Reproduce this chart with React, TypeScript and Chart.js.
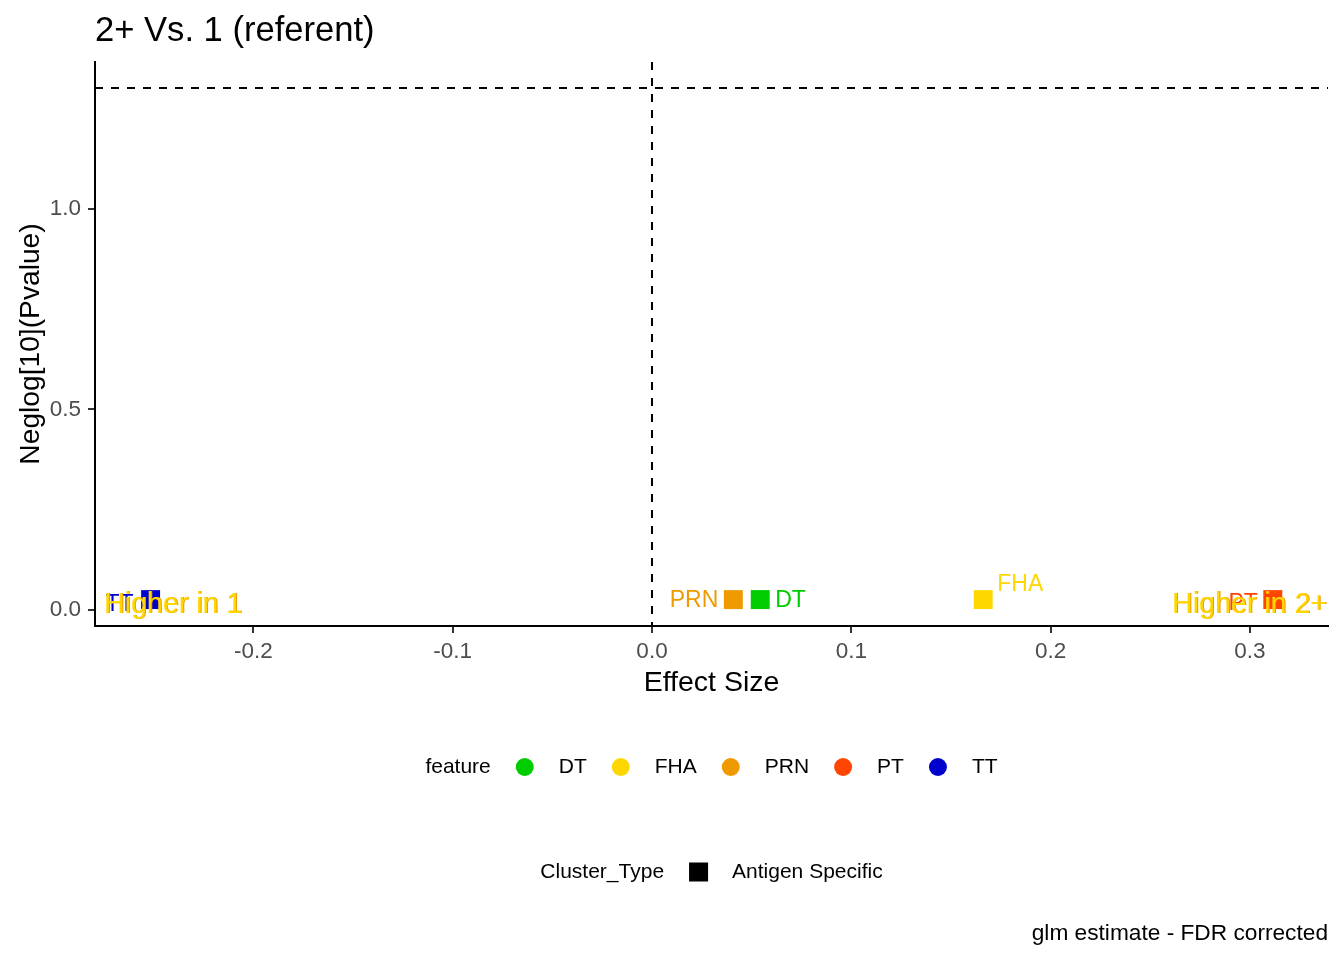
import { useEffect, useRef } from 'react';
import { Chart, registerables } from 'chart.js';

Chart.register(...registerables);

const FONT = '"Liberation Sans", Arial, sans-serif';

// data
const features = ['DT', 'FHA', 'PRN', 'PT', 'TT'];
const featureColors = ['#00CD00', '#FFD700', '#EE9A00', '#FF4500', '#0000CD'];
const effectSize = [0.0543, 0.1662, 0.0408, 0.3115, -0.2516];
const negLogP = [0.026, 0.026, 0.026, 0.026, 0.026];
const clusterTypes = ['Antigen Specific'];

const xTicks = [-0.2, -0.1, 0.0, 0.1, 0.2, 0.3];
const yTicks = [0.0, 0.5, 1.0];
const pThreshold = -Math.log10(0.05);

// repelled label placement (pixel offsets from the point, text alignment)
const labelOffsets: { dx: number; dy: number; align: CanvasTextAlign }[] = [
  { dx: 15, dy: 1, align: 'left' },
  { dx: 14, dy: -15, align: 'left' },
  { dx: -15, dy: 1, align: 'right' },
  { dx: -15, dy: 4, align: 'right' },
  { dx: -17, dy: 5, align: 'right' },
];

const annotPlugin = {
  id: 'annot',
  beforeDatasetsDraw(chart: any) {
    const { ctx, chartArea, scales } = chart;
    const x0 = scales.x.getPixelForValue(0);
    const yT = scales.y.getPixelForValue(pThreshold);
    ctx.save();
    ctx.strokeStyle = '#000';
    ctx.lineWidth = 2;
    ctx.setLineDash([8, 8]);
    ctx.beginPath();
    ctx.moveTo(x0, chartArea.top);
    ctx.lineTo(x0, chartArea.bottom);
    ctx.moveTo(chartArea.left, yT);
    ctx.lineTo(chartArea.right, yT);
    ctx.stroke();
    ctx.restore();
  },
  afterDatasetsDraw(chart: any) {
    const { ctx, scales } = chart;
    ctx.save();
    ctx.font = `23px ${FONT}`;
    ctx.textBaseline = 'middle';
    features.forEach((f, i) => {
      const px = scales.x.getPixelForValue(effectSize[i]);
      const py = scales.y.getPixelForValue(negLogP[i]);
      const o = labelOffsets[i];
      ctx.fillStyle = featureColors[i];
      ctx.textAlign = o.align;
      ctx.fillText(f, px + o.dx, py + o.dy);
    });

    // direction labels
    ctx.font = `28.6px ${FONT}`;
    const yH = scales.y.getPixelForValue(0.013);
    const drawDir = (text: string, x: number, align: CanvasTextAlign) => {
      ctx.textAlign = align;
      ctx.fillStyle = '#EE9A00';
      ctx.fillText(text, x + 1, yH);
      ctx.fillStyle = '#FFD700';
      ctx.fillText(text, x, yH);
    };
    drawDir('Higher in 1', scales.x.getPixelForValue(-0.275), 'left');
    drawDir('Higher in 2+', scales.x.getPixelForValue(scales.x.max) - 1, 'right');
    ctx.restore();
  },
  afterDraw(chart: any) {
    const { ctx, chartArea } = chart;
    ctx.save();
    ctx.fillStyle = '#000';
    ctx.textBaseline = 'alphabetic';

    // title
    ctx.font = `34.6px ${FONT}`;
    ctx.textAlign = 'left';
    ctx.fillText('2+ Vs. 1 (referent)', chartArea.left, 41);

    // axis titles
    ctx.font = `28.5px ${FONT}`;
    ctx.textAlign = 'center';
    ctx.textBaseline = 'middle';
    ctx.fillText('Effect Size', (chartArea.left + chartArea.right) / 2, 683);
    ctx.save();
    ctx.translate(39, (chartArea.top + chartArea.bottom) / 2);
    ctx.rotate(-Math.PI / 2);
    ctx.textBaseline = 'alphabetic';
    ctx.font = `28.2px ${FONT}`;
    ctx.fillText('Neglog[10](Pvalue)', 0, 0);
    ctx.restore();

    // legends
    const cx = (chartArea.left + chartArea.right) / 2;
    ctx.font = `21px ${FONT}`;
    ctx.textAlign = 'left';
    ctx.textBaseline = 'middle';
    const gap = 25;
    const key = 18;

    const row1Y = 767;
    let w = ctx.measureText('feature').width;
    features.forEach((f) => {
      w += gap + key + gap + ctx.measureText(f).width;
    });
    let x = cx - w / 2;
    ctx.fillStyle = '#000';
    ctx.fillText('feature', x, row1Y);
    x += ctx.measureText('feature').width;
    features.forEach((f, i) => {
      x += gap;
      ctx.fillStyle = featureColors[i];
      ctx.beginPath();
      ctx.arc(x + key / 2, row1Y, key / 2, 0, Math.PI * 2);
      ctx.fill();
      x += key + gap;
      ctx.fillStyle = '#000';
      ctx.fillText(f, x, row1Y);
      x += ctx.measureText(f).width;
    });

    const row2Y = 872;
    w = ctx.measureText('Cluster_Type').width;
    clusterTypes.forEach((c) => {
      w += gap + key + gap + ctx.measureText(c).width;
    });
    x = cx - w / 2;
    ctx.fillStyle = '#000';
    ctx.fillText('Cluster_Type', x, row2Y);
    x += ctx.measureText('Cluster_Type').width;
    clusterTypes.forEach((c) => {
      x += gap;
      ctx.fillRect(x, row2Y - key / 2 - 0.5, key + 1, key + 1);
      x += key + gap;
      ctx.fillText(c, x, row2Y);
      x += ctx.measureText(c).width;
    });

    // caption
    ctx.font = `22.7px ${FONT}`;
    ctx.textAlign = 'right';
    ctx.fillText('glm estimate - FDR corrected', chartArea.right, 934);
    ctx.restore();
  },
};

export default function App() {
  const canvasRef = useRef<HTMLCanvasElement>(null);
  const chartRef = useRef<Chart | null>(null);

  useEffect(() => {
    document.body.style.margin = '0';
    if (!canvasRef.current) return;
    const ctx = canvasRef.current.getContext('2d');
    if (!ctx) return;

    if (chartRef.current) {
      chartRef.current.destroy();
    }

    chartRef.current = new Chart(ctx, {
      type: 'scatter',
      data: {
        datasets: [{
          data: effectSize.map((v, i) => ({ x: v, y: negLogP[i] })),
          backgroundColor: featureColors,
          borderWidth: 0,
          pointStyle: 'rect',
          pointRadius: 13.4,
          pointHoverRadius: 13.4,
        }],
      },
      options: {
        responsive: false,
        animation: false,
        events: [],
        layout: { padding: { top: 62, right: 16, left: 0, bottom: 0 } },
        plugins: {
          legend: { display: false },
          tooltip: { enabled: false },
        },
        scales: {
          x: {
            type: 'linear',
            min: -0.2795,
            max: 0.3392,
            afterFit: (s: any) => { s.height = 334; },
            afterBuildTicks: (s: any) => { s.ticks = xTicks.map((v) => ({ value: v })); },
            grid: { drawOnChartArea: false, drawTicks: true, tickLength: 7, color: '#333', lineWidth: 2 },
            border: { display: true, color: '#000', width: 2 },
            ticks: {
              color: '#4D4D4D',
              padding: 5,
              font: { size: 22.5, family: FONT },
              callback: (v: any) => Number(v).toFixed(1),
            },
          },
          y: {
            type: 'linear',
            min: -0.0398,
            max: 1.3657,
            afterFit: (s: any) => { s.width = 95; },
            afterBuildTicks: (s: any) => { s.ticks = yTicks.map((v) => ({ value: v })); },
            grid: { drawOnChartArea: false, drawTicks: true, tickLength: 7, color: '#333', lineWidth: 2 },
            border: { display: true, color: '#000', width: 2 },
            ticks: {
              color: '#4D4D4D',
              padding: 7,
              font: { size: 22.5, family: FONT },
              callback: (v: any) => Number(v).toFixed(1),
            },
          },
        },
      },
      plugins: [annotPlugin],
    });

    return () => {
      if (chartRef.current) {
        chartRef.current.destroy();
        chartRef.current = null;
      }
    };
  }, []);

  return (
    <div style={{ width: 1344, height: 960, background: '#fff' }}>
      <canvas ref={canvasRef} width={1344} height={960} style={{ width: 1344, height: 960, display: 'block' }} />
    </div>
  );
}
